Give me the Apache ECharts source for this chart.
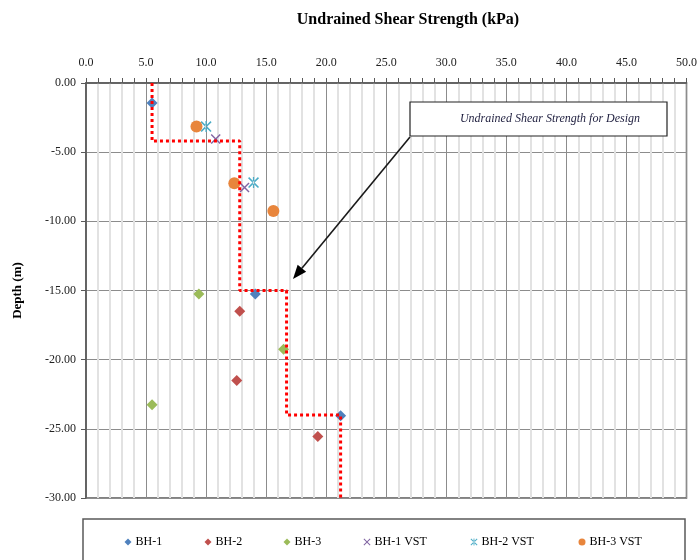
<!DOCTYPE html>
<html>
<head>
<meta charset="utf-8">
<title>Undrained Shear Strength</title>
<script src="https://cdn.jsdelivr.net/npm/echarts@6/dist/echarts.min.js"></script>
<style>
  html, body { margin: 0; padding: 0; background: #fff; }
  #chart { width: 700px; height: 560px; }
</style>
</head>
<body>
<div id="chart"></div>
<script>
// Borehole test results: shear strength (kPa) against depth (m)
const bh1Strength = [5.5, 14.1, 21.2];
const bh1Depth    = [-1.45, -15.25, -24.05];
const bh2Strength = [12.8, 12.55, 19.3];
const bh2Depth    = [-16.5, -21.5, -25.55];
const bh3Strength = [9.4, 16.45, 5.5];
const bh3Depth    = [-15.25, -19.25, -23.25];

// Vane shear tests
const bh1VstStrength = [10.8, 13.2];
const bh1VstDepth    = [-4.05, -7.55];
const bh2VstStrength = [10.0, 13.95];
const bh2VstDepth    = [-3.15, -7.2];
const bh3VstStrength = [9.2, 12.35, 15.6];
const bh3VstDepth    = [-3.15, -7.25, -9.25];

// Stepped design profile
const designStrength = [5.5, 5.5, 12.8, 12.8, 16.7, 16.7, 21.2, 21.2];
const designDepth    = [0, -4.2, -4.2, -15, -15, -24, -24, -30];

const seriesNames = ['BH-1', 'BH-2', 'BH-3', 'BH-1 VST', 'BH-2 VST', 'BH-3 VST'];

const pairs = (xs, ys) => xs.map((x, i) => [x, ys[i]]);

const SERIF = '"Liberation Serif", "DejaVu Serif", serif';
const crossPath = 'path://M0,1L1,0L5,4L9,0L10,1L6,5L10,9L9,10L5,6L1,10L0,9L4,5Z';
const starPath = 'path://M0,1L1,0L5,4L9,0L10,1L6,5L10,9L9,10L5,6L1,10L0,9L4,5Z M4.4,0L4.4,10L5.6,10L5.6,0Z';

const chart = echarts.init(document.getElementById('chart'), null, { renderer: 'canvas' });

// legend entries placed individually along one row
const legendX = [128, 208, 287, 367, 474, 582];
const legends = seriesNames.map((n, i) => ({
  data: [n],
  left: legendX[i] - 3.5,
  top: 536,
  padding: 0,
  itemWidth: 7,
  itemHeight: 7,
  itemGap: 0,
  selectedMode: false,
  textStyle: { fontFamily: SERIF, fontSize: 12, color: '#000', padding: [0, 0, 0, -1] }
}));

const scatterStyle = color => ({ color: color, opacity: 1 });

const option = {
  animation: false,
  backgroundColor: '#fff',
  title: {
    text: 'Undrained Shear Strength (kPa)',
    left: 403,
    top: 7,
    textAlign: 'center',
    textStyle: { fontFamily: SERIF, fontWeight: 'bold', fontSize: 16, color: '#000' }
  },
  legend: legends,
  grid: {
    left: 86, right: 13, top: 83, bottom: 62,
    show: true, borderColor: '#595959', borderWidth: 1.5, backgroundColor: 'transparent'
  },
  xAxis: {
    type: 'value', position: 'top', min: 0, max: 50, interval: 5,
    axisLine: { show: true, lineStyle: { color: '#595959', width: 1.5 } },
    axisTick: { show: true, length: 5, lineStyle: { color: '#595959' } },
    minorTick: { show: true, splitNumber: 5, length: 5, lineStyle: { color: '#595959' } },
    splitLine: { show: true, lineStyle: { color: '#8c8c8c', width: 1 } },
    minorSplitLine: { show: true, lineStyle: { color: '#e2e2e2', width: 2 } },
    axisLabel: {
      margin: 14, fontFamily: SERIF, fontSize: 12, color: '#222',
      formatter: v => v.toFixed(1)
    }
  },
  yAxis: {
    type: 'value', min: -30, max: 0, interval: 5,
    name: 'Depth (m)', nameLocation: 'middle', nameGap: 62, nameRotate: 90,
    nameTextStyle: { fontFamily: SERIF, fontWeight: 'bold', fontSize: 13, color: '#000' },
    axisLine: { show: true, onZero: false, lineStyle: { color: '#595959', width: 1.5 } },
    axisTick: { show: true, length: 5, lineStyle: { color: '#595959' } },
    splitLine: { show: true, lineStyle: { color: '#8c8c8c', width: 1 } },
    axisLabel: {
      margin: 10, fontFamily: SERIF, fontSize: 12, color: '#222',
      formatter: v => v.toFixed(2)
    }
  },
  series: [
    { name: 'BH-1', type: 'scatter', symbol: 'diamond', symbolSize: 11,
      itemStyle: scatterStyle('#4F81BD'), data: pairs(bh1Strength, bh1Depth), z: 3 },
    { name: 'BH-2', type: 'scatter', symbol: 'diamond', symbolSize: 11,
      itemStyle: scatterStyle('#C0504D'), data: pairs(bh2Strength, bh2Depth), z: 3 },
    { name: 'BH-3', type: 'scatter', symbol: 'diamond', symbolSize: 11,
      itemStyle: scatterStyle('#9BBB59'), data: pairs(bh3Strength, bh3Depth), z: 3 },
    { name: 'BH-1 VST', type: 'scatter', symbol: crossPath, symbolSize: 10,
      itemStyle: scatterStyle('#8064A2'), data: pairs(bh1VstStrength, bh1VstDepth), z: 3 },
    { name: 'BH-2 VST', type: 'scatter', symbol: starPath, symbolSize: 11,
      itemStyle: scatterStyle('#4BACC6'), data: pairs(bh2VstStrength, bh2VstDepth), z: 3 },
    { name: 'BH-3 VST', type: 'scatter', symbol: 'circle', symbolSize: 12,
      itemStyle: scatterStyle('#E8853C'), data: pairs(bh3VstStrength, bh3VstDepth), z: 3 },
    { name: 'Design', type: 'line', showSymbol: false, symbol: 'none',
      lineStyle: { color: '#FF0000', width: 3, type: [3, 3], cap: 'butt' },
      data: pairs(designStrength, designDepth), z: 4, silent: true }
  ]
};

chart.setOption(option);

// Call-out box with a pointer to the design profile
const tail = [410, 137];
const tip = [293, 279];
const dx = tip[0] - tail[0], dy = tip[1] - tail[1];
const len = Math.hypot(dx, dy);
const ux = dx / len, uy = dy / len;
const px = -uy, py = ux;
const headLen = 14, headHalf = 5.5;
const bx = tip[0] - ux * headLen, by = tip[1] - uy * headLen;

chart.setOption({
  graphic: [
    // legend frame (runs past the bottom edge)
    { type: 'rect', shape: { x: 83, y: 519, width: 602, height: 60 },
      style: { fill: 'transparent', stroke: '#595959', lineWidth: 1.5 }, z: 1 },
    { type: 'line', shape: { x1: tail[0], y1: tail[1], x2: bx, y2: by },
      style: { stroke: '#1a1a1a', lineWidth: 1.6 }, z: 10 },
    { type: 'polygon',
      shape: { points: [tip, [bx + px * headHalf, by + py * headHalf], [bx - px * headHalf, by - py * headHalf]] },
      style: { fill: '#000' }, z: 10 },
    { type: 'rect', shape: { x: 410, y: 102, width: 257, height: 34 },
      style: { fill: '#fff', stroke: '#222', lineWidth: 1.2 }, z: 10 },
    { type: 'text', x: 550, y: 119,
      style: { text: 'Undrained Shear Strength for Design', fontFamily: SERIF, fontStyle: 'italic',
               fontSize: 12, fill: '#1f1f3f', align: 'center', verticalAlign: 'middle' }, z: 11 }
  ]
});
</script>
</body>
</html>
